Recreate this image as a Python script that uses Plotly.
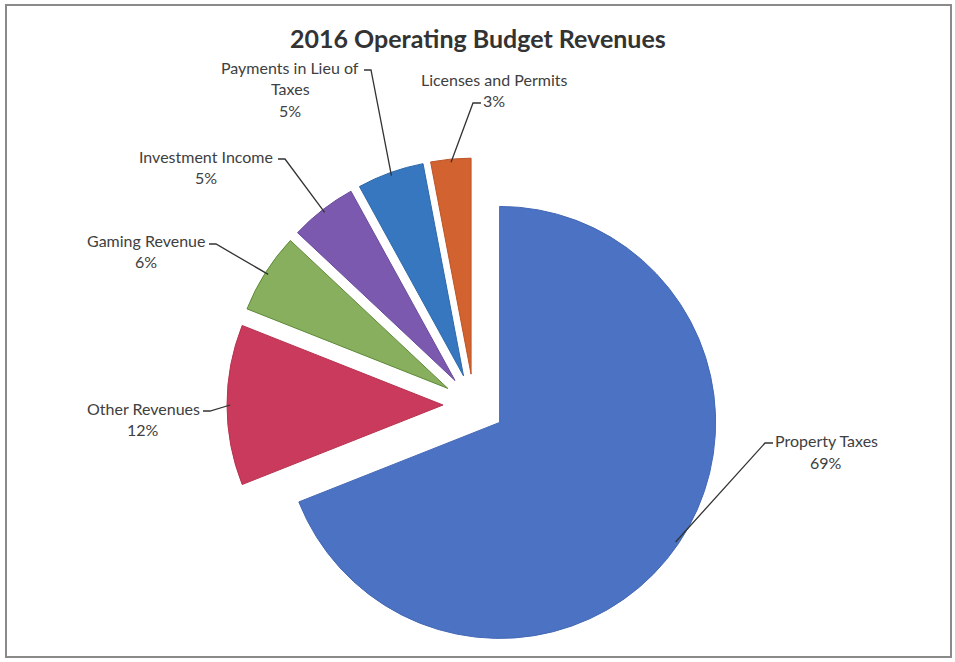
import math
import plotly.graph_objects as go

# Revenue categories, in drawing order (clockwise from 12 o'clock)
categories = ["Property Taxes", "Other Revenues", "Gaming Revenue",
              "Investment Income", "Payments in Lieu of Taxes", "Licenses and Permits"]
shares = [69, 12, 6, 5, 5, 3]

# Text lines shown in each data label (the percentage is appended)
label_lines = [
    ["Property Taxes"],
    ["Other Revenues"],
    ["Gaming Revenue"],
    ["Investment Income"],
    ["Payments in Lieu of", "Taxes"],
    ["Licenses and Permits"],
]

colors = ["#4b72c3", "#c93a5d", "#88af5e", "#7b59ae", "#3677bf", "#d2622f"]
edge_colors = ["#4468b5", "#b8324f", "#5f8a3a", "#6a4a9c", "#2e68aa", "#bd5426"]

W, H = 955, 662
PIE_CX, PIE_CY = 474, 405     # pie centre (px)
PIE_R = 216                   # radius (px)
PULL = 0.1435                 # explosion, as fraction of radius

# Label placement: centre x, first-line y, and the leader-line start/elbow
label_layout = [
    dict(x=826, y=441, start=(773, 443), elbow=(765, 443)),
    dict(x=143, y=408, start=(203, 411), elbow=(210, 411)),
    dict(x=146, y=240, start=(209, 244), elbow=(216, 244)),
    dict(x=206, y=156, start=(278, 159), elbow=(285, 159)),
    dict(x=290, y=67, start=(364, 70), elbow=(371, 70)),
    dict(x=494, y=79, start=(481, 103), elbow=(473, 103)),
]
LINE_GAP = 21.5


def px(x):
    return x / W


def py(y):
    return 1 - y / H


box = 2 * PIE_R * (1 + PULL)
domain_x = [px(PIE_CX - box / 2), px(PIE_CX + box / 2)]
domain_y = [py(PIE_CY + box / 2), py(PIE_CY - box / 2)]

fig = go.Figure(go.Pie(
    labels=categories,
    values=shares,
    sort=False,
    direction="clockwise",
    rotation=0,
    pull=PULL,
    textinfo="none",
    hoverinfo="label+percent",
    marker=dict(colors=colors, line=dict(color=edge_colors, width=1)),
    domain=dict(x=domain_x, y=domain_y),
    showlegend=False,
))

font_family = "Lato, 'Open Sans', sans-serif"
text_color = "#404040"

annotations = []
shapes = []
total = sum(shares)
cum = 0
for name_lines, val, lay in zip(label_lines, shares, label_layout):
    # mid-angle of the slice, clockwise from 12 o'clock
    mid = (cum + val / 2) / total * 2 * math.pi
    cum += val
    dx, dy = math.sin(mid), -math.cos(mid)
    reach = PIE_R * (PULL + 0.985)
    ax, ay = PIE_CX + reach * dx, PIE_CY + reach * dy

    lines = name_lines + [f"{val}%"]
    for i, t in enumerate(lines):
        annotations.append(dict(
            x=px(lay["x"]), y=py(lay["y"] + i * LINE_GAP),
            xref="paper", yref="paper", text=t, showarrow=False,
            xanchor="center", yanchor="middle",
            font=dict(family=font_family, size=16, color=text_color),
        ))
    (sx, sy), (ex, ey) = lay["start"], lay["elbow"]
    shapes.append(dict(
        type="path", xref="paper", yref="paper",
        path=f"M {px(sx)} {py(sy)} L {px(ex)} {py(ey)} L {px(ax)} {py(ay)}",
        line=dict(color="#333333", width=1.3),
    ))

# Chart frame
shapes.append(dict(type="rect", xref="paper", yref="paper",
                   x0=px(6), x1=px(951), y0=py(657), y1=py(5),
                   line=dict(color="#8a8a8a", width=2)))

annotations.append(dict(
    x=px(478), y=py(38), xref="paper", yref="paper",
    text="<b>2016 Operating Budget Revenues</b>", showarrow=False,
    xanchor="center", yanchor="middle",
    font=dict(family=font_family, size=25, color="#333333"),
))

fig.update_layout(
    width=W, height=H, autosize=False,
    margin=dict(l=0, r=0, t=0, b=0),
    paper_bgcolor="white", plot_bgcolor="white",
    annotations=annotations, shapes=shapes,
)

fig.write_html("out.html")
